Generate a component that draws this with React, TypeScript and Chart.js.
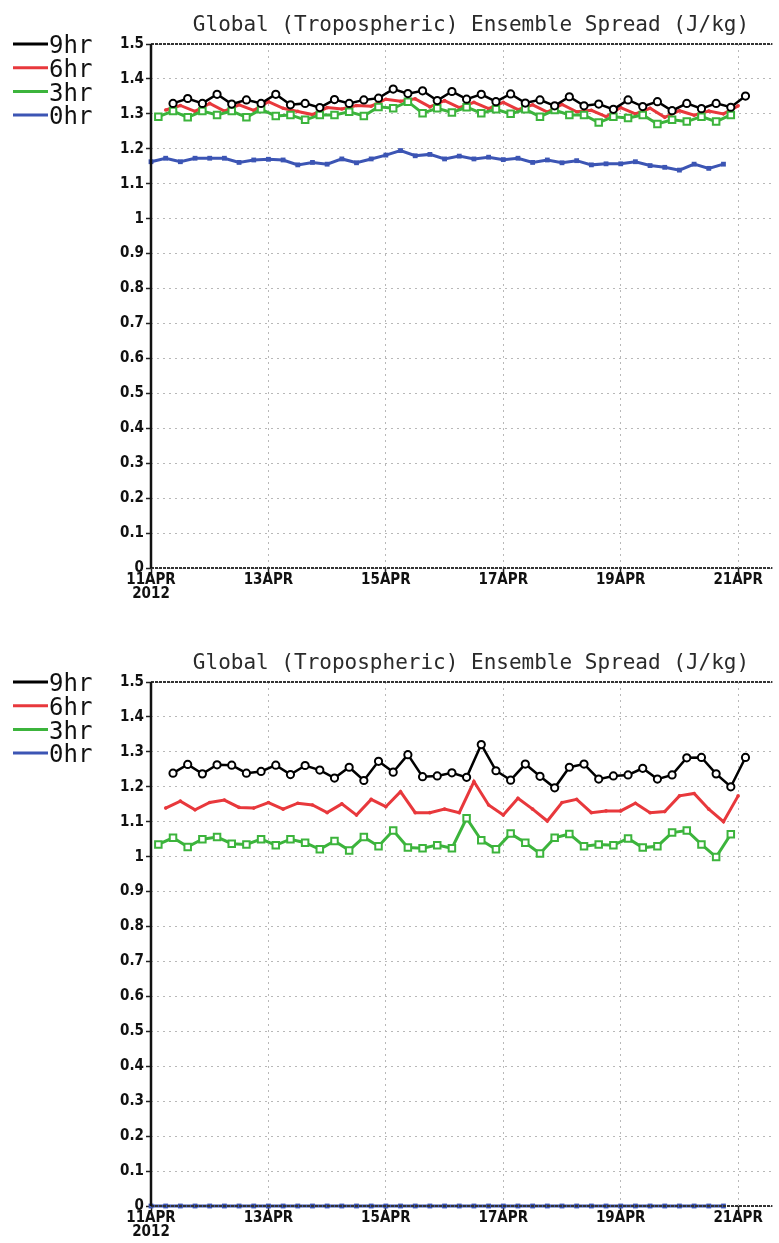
import React, { useEffect, useRef } from 'react';
import { Chart, registerables } from 'chart.js';

Chart.register(...registerables);

const TITLE = 'Global (Tropospheric) Ensemble Spread (J/kg)';
const seriesNames = ['9hr', '6hr', '3hr', '0hr'];
const seriesColors = ['#000000', '#e8383c', '#3cb43c', '#3c55b4'];

// x positions: hours after 11APR2012 00Z
const t0hr = [0, 6, 12, 18, 24, 30, 36, 42, 48, 54, 60, 66, 72, 78, 84, 90, 96, 102, 108, 114, 120, 126, 132, 138, 144, 150, 156, 162, 168, 174, 180, 186, 192, 198, 204, 210, 216, 222, 228, 234];
const t3hr = [3, 9, 15, 21, 27, 33, 39, 45, 51, 57, 63, 69, 75, 81, 87, 93, 99, 105, 111, 117, 123, 129, 135, 141, 147, 153, 159, 165, 171, 177, 183, 189, 195, 201, 207, 213, 219, 225, 231, 237];
const t6hr = [6, 12, 18, 24, 30, 36, 42, 48, 54, 60, 66, 72, 78, 84, 90, 96, 102, 108, 114, 120, 126, 132, 138, 144, 150, 156, 162, 168, 174, 180, 186, 192, 198, 204, 210, 216, 222, 228, 234, 240];
const t9hr = [9, 15, 21, 27, 33, 39, 45, 51, 57, 63, 69, 75, 81, 87, 93, 99, 105, 111, 117, 123, 129, 135, 141, 147, 153, 159, 165, 171, 177, 183, 189, 195, 201, 207, 213, 219, 225, 231, 237, 243];

const xTickHours = [0, 48, 96, 144, 192, 240];
const xTickLabels: (string | string[])[] = [['11APR', '2012'], '13APR', '15APR', '17APR', '19APR', '21APR'];

// Upper panel
const top9hr = [1.330, 1.344, 1.330, 1.356, 1.328, 1.340, 1.330, 1.356, 1.326, 1.330, 1.318, 1.341, 1.330, 1.340, 1.345, 1.371, 1.358, 1.366, 1.338, 1.364, 1.342, 1.356, 1.335, 1.357, 1.331, 1.340, 1.323, 1.349, 1.323, 1.328, 1.313, 1.340, 1.321, 1.335, 1.309, 1.330, 1.315, 1.330, 1.319, 1.351];
const top6hr = [1.311, 1.324, 1.307, 1.330, 1.308, 1.326, 1.310, 1.335, 1.316, 1.307, 1.298, 1.318, 1.314, 1.324, 1.322, 1.342, 1.336, 1.343, 1.320, 1.338, 1.318, 1.333, 1.315, 1.333, 1.312, 1.326, 1.305, 1.327, 1.306, 1.310, 1.292, 1.318, 1.300, 1.316, 1.290, 1.309, 1.296, 1.308, 1.300, 1.323];
const top3hr = [1.292, 1.308, 1.290, 1.308, 1.297, 1.308, 1.290, 1.313, 1.294, 1.297, 1.283, 1.297, 1.297, 1.306, 1.294, 1.320, 1.316, 1.335, 1.302, 1.316, 1.304, 1.319, 1.302, 1.313, 1.300, 1.313, 1.292, 1.311, 1.297, 1.297, 1.275, 1.292, 1.288, 1.297, 1.271, 1.283, 1.278, 1.292, 1.278, 1.297];
const top0hr = [1.163, 1.173, 1.163, 1.173, 1.173, 1.173, 1.161, 1.168, 1.170, 1.168, 1.154, 1.161, 1.156, 1.171, 1.160, 1.171, 1.182, 1.195, 1.180, 1.184, 1.171, 1.179, 1.171, 1.176, 1.169, 1.173, 1.161, 1.168, 1.160, 1.166, 1.154, 1.157, 1.157, 1.163, 1.152, 1.147, 1.139, 1.156, 1.144, 1.156];

// Lower panel
const bot9hr = [1.239, 1.264, 1.237, 1.263, 1.262, 1.239, 1.244, 1.262, 1.235, 1.261, 1.248, 1.225, 1.256, 1.218, 1.273, 1.242, 1.292, 1.229, 1.231, 1.240, 1.227, 1.321, 1.246, 1.219, 1.265, 1.230, 1.197, 1.256, 1.265, 1.222, 1.231, 1.234, 1.253, 1.222, 1.234, 1.283, 1.284, 1.237, 1.200, 1.284];
const bot6hr = [1.139, 1.159, 1.134, 1.155, 1.162, 1.141, 1.139, 1.155, 1.136, 1.153, 1.148, 1.126, 1.151, 1.119, 1.164, 1.143, 1.186, 1.126, 1.126, 1.136, 1.126, 1.215, 1.148, 1.119, 1.167, 1.136, 1.102, 1.155, 1.164, 1.126, 1.131, 1.131, 1.153, 1.126, 1.129, 1.174, 1.181, 1.136, 1.100, 1.174];
const bot3hr = [1.035, 1.054, 1.028, 1.050, 1.056, 1.037, 1.035, 1.050, 1.033, 1.050, 1.040, 1.021, 1.045, 1.018, 1.056, 1.030, 1.075, 1.026, 1.024, 1.033, 1.024, 1.110, 1.047, 1.021, 1.066, 1.040, 1.009, 1.054, 1.065, 1.030, 1.035, 1.033, 1.052, 1.026, 1.030, 1.069, 1.075, 1.035, 0.999, 1.064];
const bot0hr = [0, 0, 0, 0, 0, 0, 0, 0, 0, 0, 0, 0, 0, 0, 0, 0, 0, 0, 0, 0, 0, 0, 0, 0, 0, 0, 0, 0, 0, 0, 0, 0, 0, 0, 0, 0, 0, 0, 0, 0];

const TICK_FONT = "'Liberation Sans Narrow', 'DejaVu Sans Condensed', 'Liberation Sans', sans-serif";
const MONO = "'DejaVu Sans Mono', 'Liberation Mono', monospace";

const pts = (xs: number[], ys: number[]) => xs.map((x, i) => ({ x, y: ys[i] }));

const framePlugin = {
  id: 'frame',
  afterDatasetsDraw(chart: any) {
    const { ctx, chartArea } = chart;
    const { left, top, right, bottom } = chartArea;
    ctx.save();
    ctx.strokeStyle = '#333';
    ctx.lineWidth = 2;
    ctx.setLineDash([3, 1]);
    ctx.beginPath();
    ctx.moveTo(left, top);
    ctx.lineTo(right, top);
    ctx.moveTo(left, bottom);
    ctx.lineTo(right, bottom);
    ctx.stroke();
    ctx.setLineDash([]);
    ctx.strokeStyle = '#111';
    ctx.lineWidth = 2.5;
    ctx.beginPath();
    ctx.moveTo(left, top);
    ctx.lineTo(left, bottom);
    ctx.stroke();

    // title
    ctx.fillStyle = '#2a2a2a';
    ctx.font = `21px ${MONO}`;
    ctx.textAlign = 'center';
    ctx.textBaseline = 'alphabetic';
    ctx.fillText(TITLE, 471, 31);

    // legend
    ctx.font = `24px ${MONO}`;
    ctx.textAlign = 'left';
    ctx.textBaseline = 'middle';
    seriesNames.forEach((name, i) => {
      const y = 44 + i * 23.7;
      ctx.strokeStyle = seriesColors[i];
      ctx.lineWidth = 3;
      ctx.beginPath();
      ctx.moveTo(13, y);
      ctx.lineTo(48, y);
      ctx.stroke();
      ctx.fillStyle = '#111';
      ctx.fillText(name, 49, y + 3);
    });
    ctx.restore();
  },
};

function Panel({ top, height, series }: { top: number; height: number; series: number[][] }) {
  const ref = useRef<HTMLCanvasElement | null>(null);
  useEffect(() => {
    if (!ref.current) return;
    const xAxisH = 37;
    const chart = new Chart(ref.current, {
      type: 'line',
      data: {
        datasets: [
          {
            label: seriesNames[0],
            data: pts(t9hr, series[0]),
            borderColor: seriesColors[0],
            borderWidth: 2.5,
            pointStyle: 'circle',
            pointRadius: 3.6,
            pointBackgroundColor: '#ffffff',
            pointBorderColor: seriesColors[0],
            pointBorderWidth: 2,
            order: 1,
            clip: false,
          },
          {
            label: seriesNames[1],
            data: pts(t6hr, series[1]),
            borderColor: seriesColors[1],
            borderWidth: 3,
            pointStyle: 'circle',
            pointRadius: 1.8,
            pointBackgroundColor: seriesColors[1],
            pointBorderWidth: 0,
            order: 3,
            clip: false,
          },
          {
            label: seriesNames[2],
            data: pts(t3hr, series[2]),
            borderColor: seriesColors[2],
            borderWidth: 3,
            pointStyle: 'rect',
            pointRadius: 4.6,
            pointBackgroundColor: '#ffffff',
            pointBorderColor: seriesColors[2],
            pointBorderWidth: 2,
            order: 2,
            clip: false,
          },
          {
            label: seriesNames[3],
            data: pts(t0hr, series[3]),
            borderColor: seriesColors[3],
            borderWidth: 3,
            pointStyle: 'rect',
            pointRadius: 3.4,
            pointBackgroundColor: seriesColors[3],
            pointBorderColor: seriesColors[3],
            pointBorderWidth: 0,
            order: 4,
            clip: false,
          },
        ],
      },
      options: {
        responsive: false,
        animation: false,
        events: [],
        layout: { padding: { top: 44, left: 0, right: 0, bottom: height - 568 - xAxisH } },
        plugins: { legend: { display: false }, tooltip: { enabled: false }, title: { display: false } },
        elements: { line: { tension: 0 } },
        scales: {
          x: {
            type: 'linear',
            min: 0,
            max: 254,
            afterFit: (s: any) => { s.height = xAxisH; },
            afterBuildTicks: (s: any) => { s.ticks = xTickHours.map((v) => ({ value: v })); },
            ticks: {
              autoSkip: false,
              maxRotation: 0,
              padding: 0,
              color: '#111',
              font: { family: TICK_FONT, size: 15, weight: 'bold', lineHeight: 0.95 },
              callback: (v: any) => {
                const i = xTickHours.indexOf(Number(v));
                return i >= 0 ? xTickLabels[i] : '';
              },
            },
            grid: { color: '#b8b8b8', lineWidth: 1, tickColor: '#222', tickLength: 5, tickWidth: 1.5 },
            border: { display: false, dash: [2, 4] },
          },
          y: {
            type: 'linear',
            min: 0,
            max: 1.5,
            afterFit: (s: any) => { s.width = 151; },
            ticks: {
              stepSize: 0.1,
              padding: 2,
              color: '#111',
              font: { family: TICK_FONT, size: 15, weight: 'bold' },
              callback: (v: any) => Number(v).toFixed(1).replace(/\.0$/, ''),
            },
            grid: { color: '#b8b8b8', lineWidth: 1, tickColor: '#222', tickLength: 5, tickWidth: 1.5 },
            border: { display: false, dash: [2, 4] },
          },
        },
      },
      plugins: [framePlugin],
    } as any);
    return () => chart.destroy();
  }, [height, series]);
  return (
    <canvas
      ref={ref}
      width={779}
      height={height}
      style={{ position: 'absolute', left: 0, top, display: 'block' }}
    />
  );
}

const topSeries = [top9hr, top6hr, top3hr, top0hr];
const bottomSeries = [bot9hr, bot6hr, bot3hr, bot0hr];

export default function App() {
  return (
    <div style={{ position: 'absolute', left: 0, top: 0, width: 779, height: 1243, background: '#fff' }}>
      <Panel top={0} height={638} series={topSeries} />
      <Panel top={638} height={605} series={bottomSeries} />
    </div>
  );
}
